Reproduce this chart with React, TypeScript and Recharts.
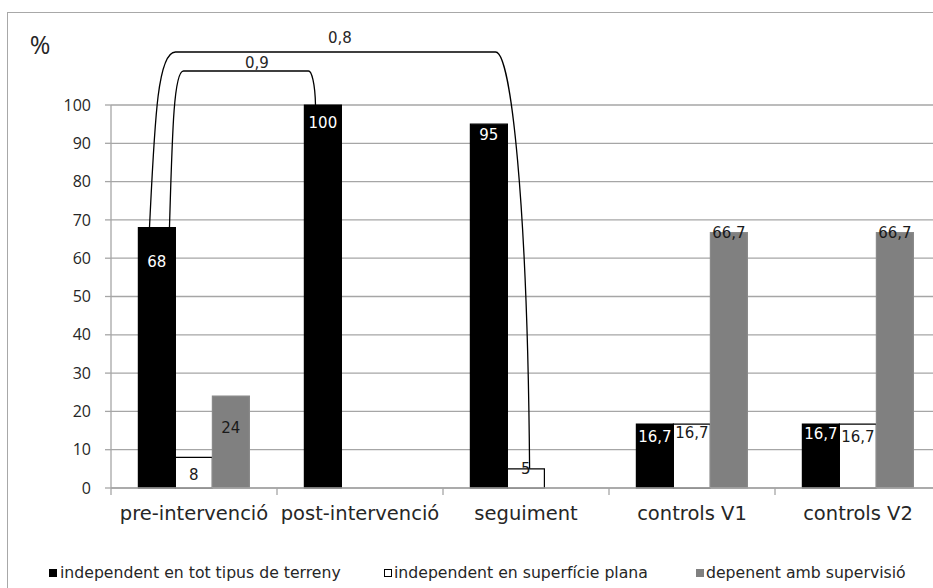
import React from 'react';
import * as R from 'recharts';

const { BarChart, Bar, XAxis, YAxis, CartesianGrid, LabelList } = R as any;

// ---------- data ----------
const categories = ['pre-intervenció', 'post-intervenció', 'seguiment', 'controls V1', 'controls V2'];
const seriesNames = [
  'independent en tot tipus de terreny',
  'independent en superfície plana',
  'depenent amb supervisió',
];
const totTerreny: (number | null)[] = [68, 100, 95, 16.7, 16.7];
const superficiePlana: (number | null)[] = [8, null, 5, 16.7, 16.7];
const ambSupervisio: (number | null)[] = [24, null, null, 66.7, 66.7];
const yTicks = [0, 10, 20, 30, 40, 50, 60, 70, 80, 90, 100];
const yDomain = [0, 100];
const comparisons = [
  { label: '0,8', fromCat: 0, fromSeries: 0, toCat: 2, toSeries: 1 },
  { label: '0,9', fromCat: 0, fromSeries: 0, toCat: 1, toSeries: 0 },
];

const seriesValues = [totTerreny, superficiePlana, ambSupervisio];
const data = categories.map((name, i) => ({
  name,
  s0: totTerreny[i],
  s1: superficiePlana[i],
  s2: ambSupervisio[i],
}));

// ---------- layout / style ----------
const CHART_W = 960;
const CHART_H = 588;
const MARGIN = { top: 105, right: 19, bottom: 60, left: 61 };
const Y_AXIS_W = 50;
const X_AXIS_H = 40;
const CAT_GAP = 0.165;
const FALLBACK_AREA = {
  x: MARGIN.left + Y_AXIS_W,
  y: MARGIN.top,
  width: CHART_W - MARGIN.left - Y_AXIS_W - MARGIN.right,
  height: CHART_H - MARGIN.top - MARGIN.bottom - X_AXIS_H,
};
const GRID = '#a6a6a6';
const TEXT = '#262626';
const SERIES_STYLE = [
  { fill: '#000000', stroke: '#000000', label: '#ffffff' },
  { fill: '#ffffff', stroke: '#000000', label: '#1a1a1a' },
  { fill: '#808080', stroke: '#8a8a8a', label: '#1a1a1a' },
];
// label centre offset below bar top (px), per series / category
const LABEL_DY = [
  [34, 18, 11, 13, 9.5],
  [18, 0, 9, 12.5, 11],
  [32, 0, 0, 15.5, 6.5],
];
// bracket shape tuning: [fromFrac, toFrac, riseAbovePlot, leftCurveW, rightCurveW]
const BRACKET_SHAPE: Record<string, number[]> = {
  '0,8': [0.3, 0.6, 53, 26, 34],
  '0,9': [0.84, 0.3, 34, 14, 7],
};
const BRACKET_LABEL_POS: Record<string, number[]> = {
  '0,8': [340, 38],
  '0,9': [257, 63],
};

const usePlotAreaHook: () => any = (R as any).usePlotArea || (() => undefined);

const fmt = (v: number) => String(v).replace('.', ',');

function Overlay() {
  const a = usePlotAreaHook() || FALLBACK_AREA;
  const n = categories.length;
  const bandW = a.width / n;
  const gap = bandW * CAT_GAP;
  const size = Math.floor((bandW - 2 * gap) / 3);
  const yS = (v: number) => a.y + a.height * (1 - (v - yDomain[0]) / (yDomain[1] - yDomain[0]));
  const barX = (cat: number, s: number, frac: number) => a.x + bandW * cat + gap + size * (s + frac);

  const paths = comparisons.map((c) => {
    const [ff, tf, rise, lw, rw] = BRACKET_SHAPE[c.label];
    const x0 = barX(c.fromCat, c.fromSeries, ff);
    const y0 = yS(seriesValues[c.fromSeries][c.fromCat] as number);
    const x1 = barX(c.toCat, c.toSeries, tf);
    const y1 = yS(seriesValues[c.toSeries][c.toCat] as number);
    const yt = a.y - rise;
    const d =
      `M${x0},${y0} C${x0 + lw * 0.2},${y0 - (y0 - yt) * 0.6} ${x0 + lw * 0.3},${yt} ${x0 + lw},${yt} ` +
      `L${x1 - rw},${yt} C${x1 - rw * 0.55},${yt} ${x1 - rw * 0.06},${yt + (y1 - yt) * 0.36} ${x1},${y1}`;
    return { d, label: c.label };
  });

  const ticks = [];
  for (let i = 0; i <= n; i++) {
    const x = a.x + bandW * i;
    ticks.push(<line key={i} x1={x} x2={x} y1={a.y + a.height} y2={a.y + a.height + 7} stroke={GRID} strokeWidth={1.3} />);
  }

  return (
    <g>
      {ticks}
      {paths.map((p) => (
        <g key={p.label}>
          <path d={p.d} fill="none" stroke="#000" strokeWidth={1.3} />
          <text
            x={BRACKET_LABEL_POS[p.label][0]}
            y={BRACKET_LABEL_POS[p.label][1]}
            textAnchor="middle"
            dominantBaseline="central"
            fontFamily="DejaVu Sans"
            fontSize={15}
            fill={TEXT}
          >
            {p.label}
          </text>
        </g>
      ))}
      <text x={40} y={44} textAnchor="middle" dominantBaseline="central" fontFamily="Open Sans" fontSize={25} fill={TEXT}>
        %
      </text>
    </g>
  );
}

const makeLabel = (s: number) => (props: any) => {
  const { x, y, width, value, index } = props;
  if (value === null || value === undefined) return null;
  return (
    <text
      x={x + width / 2}
      y={y + LABEL_DY[s][index]}
      textAnchor="middle"
      dominantBaseline="central"
      fontFamily="DejaVu Sans"
      fontSize={15}
      fill={SERIES_STYLE[s].label}
    >
      {fmt(value)}
    </text>
  );
};

const XTick = (props: any) => {
  const { x, y, payload } = props;
  return (
    <text x={x} y={y + 24} textAnchor="middle" fontFamily="DejaVu Sans" fontSize={19.5} fill={TEXT}>
      {payload.value}
    </text>
  );
};

const legendBox = [
  { left: 49, textLeft: 60 },
  { left: 384, textLeft: 394 },
  { left: 696, textLeft: 706 },
];

export default function App() {
  return (
    <div style={{ position: 'absolute', left: 0, top: 0, width: 933, height: 588, overflow: 'hidden', background: '#fff' }}>
      <div
        style={{
          position: 'absolute',
          left: 7,
          top: 12,
          width: 2000,
          height: 2000,
          borderLeft: '1.6px solid #a8a8a8',
          borderTop: '1.6px solid #a8a8a8',
        }}
      />
      <div style={{ position: 'absolute', left: 0, top: 0 }}>
        <BarChart width={CHART_W} height={CHART_H} data={data} margin={MARGIN} barCategoryGap={`${CAT_GAP * 100}%`} barGap={0}>
          <CartesianGrid vertical={false} stroke={GRID} strokeWidth={1.3} />
          <XAxis
            dataKey="name"
            height={X_AXIS_H}
            axisLine={{ stroke: GRID, strokeWidth: 1.3 }}
            tickLine={false}
            tick={<XTick />}
            interval={0}
          />
          <YAxis
            width={Y_AXIS_W}
            domain={yDomain}
            ticks={yTicks}
            interval={0}
            axisLine={{ stroke: GRID, strokeWidth: 1.3 }}
            tickLine={{ stroke: GRID, strokeWidth: 1.3 }}
            tickSize={6}
            tickMargin={14}
            tick={{ fontFamily: 'Open Sans', fontSize: 16, fill: TEXT }}
          />
          {[0, 1, 2].map((s) => (
            <Bar
              key={s}
              dataKey={`s${s}`}
              name={seriesNames[s]}
              fill={SERIES_STYLE[s].fill}
              stroke={SERIES_STYLE[s].stroke}
              strokeWidth={1.2}
              isAnimationActive={false}
            >
              <LabelList dataKey={`s${s}`} content={makeLabel(s)} />
            </Bar>
          ))}
          <Overlay />
        </BarChart>
      </div>
      {seriesNames.map((name, s) => (
        <div key={name}>
          <div
            style={{
              position: 'absolute',
              left: legendBox[s].left,
              top: 569,
              width: 8,
              height: 8,
              boxSizing: 'border-box',
              background: SERIES_STYLE[s].fill,
              border: `1px solid ${s === 1 ? '#000' : SERIES_STYLE[s].fill}`,
            }}
          />
          <div
            style={{
              position: 'absolute',
              left: legendBox[s].textLeft,
              top: 563,
              fontFamily: 'DejaVu Sans',
              fontSize: 15.7,
              lineHeight: '20px',
              color: TEXT,
              whiteSpace: 'nowrap',
            }}
          >
            {name}
          </div>
        </div>
      ))}
    </div>
  );
}
